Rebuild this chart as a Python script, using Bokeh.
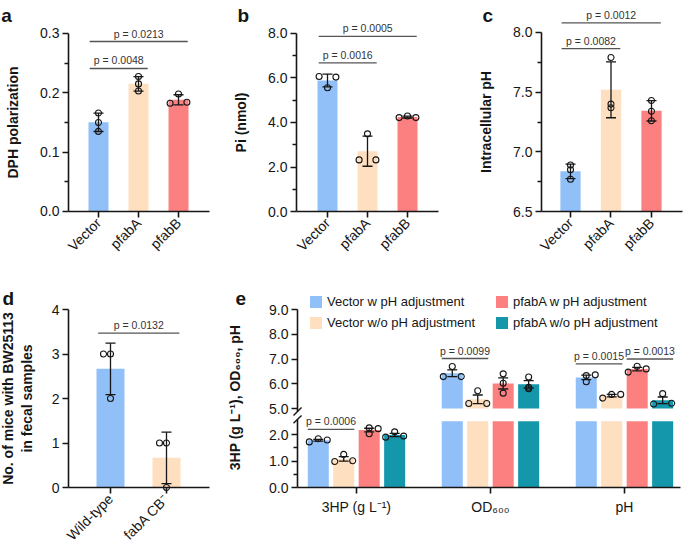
import numpy as np
from math import pi
from bokeh.plotting import figure
from bokeh.layouts import row, column
from bokeh.models import (ColumnDataSource, FixedTicker, PrintfTickFormatter, Whisker,
                          TeeHead, Label, Legend, LegendItem, Range1d, LinearAxis)
from bokeh.embed import file_html
from bokeh.resources import INLINE

FONT = "Liberation Sans"
COLORS = ["#91C0F8", "#FEDFC0", "#FC8080", "#1496AB"]
INK = "#161616"

# ---------------- data ----------------
abc_categories = ["Vector", "pfabA", "pfabB"]
a_points = [[0.166, 0.150, 0.135], [0.2275, 0.215, 0.203], [0.198, 0.1825, 0.184]]
b_points = [[6.07, 6.04, 5.56], [3.49, 2.32, 2.32], [4.22, 4.29, 4.22]]
c_points = [[6.89, 6.85, 6.77], [7.79, 7.40, 7.37], [7.43, 7.34, 7.26]]
a_pvalues = [(0, 1, "p = 0.0048"), (0, 2, "p = 0.0213")]
b_pvalues = [(0, 1, "p = 0.0016"), (0, 2, "p = 0.0005")]
c_pvalues = [(0, 1, "p = 0.0082"), (0, 2, "p = 0.0012")]

d_categories = ["Wild-type", "fabA CB\u207b"]
d_points = [[3, 3, 2], [1, 1, 0]]
d_pvalues = [(0, 1, "p = 0.0132")]

e_groups = ["3HP (g L\u207b\u00b9)", "OD\u2086\u2080\u2080", "pH"]
e_series = ["Vector w pH adjustment", "Vector w/o pH adjustment",
            "pfabA w pH adjustment", "pfabA w/o pH adjustment"]
e_vector_w = [[1.72, 1.84, 1.79], [6.70, 6.29, 6.29], [6.33, 6.08, 6.36]]
e_vector_wo = [[0.98, 1.25, 1.01], [5.72, 5.20, 5.20], [5.42, 5.57, 5.57]]
e_pfabA_w = [[2.25, 2.22, 2.03], [6.40, 6.02, 5.62], [6.47, 6.71, 6.60]]
e_pfabA_wo = [[1.90, 2.10, 1.94], [6.27, 5.86, 5.80], [5.60, 5.18, 5.21]]
e_pvalues = [(0, 0, 1, "p = 0.0006"), (1, 0, 1, "p = 0.0099"),
             (2, 0, 1, "p = 0.0015"), (2, 2, 3, "p = 0.0013")]
E_LOWER_MAX = 2.5
E_UPPER_MIN = 5.0

# ---------------- presentation (positions / styles) ----------------
a_jitter = [[0, 0, 0], [0, 0, 0], [0, -1, 1]]
b_jitter = [[-1, 1, 0], [0, -1, 1], [-1, 0, 1]]
c_jitter = [[0, 0, 0], [0, 0, 0], [0, 0, 0]]
d_jitter = [[-1, 0, 0], [-1, 0, 0]]
e_jitter = [
    [[-1, 0, 1], [0, -1, 1], [0, 0, 1]],
    [[-1, 0, 1], [0, -1, 1], [-1, 0, 1]],
    [[0, 1, 0], [0, 0, 0], [-1, 0, 1]],
    [[-1, 0, 1], [0, 0, 0], [0, -1, 1]],
]
a_bracket_y = [0.241, 0.2865]
b_bracket_y = [6.68, 7.87]
c_bracket_y = [7.864, 8.08]
d_bracket_y = [3.47]
e_bracket_y = [2.19, 7.02, 6.80, 7.00]
E_OFFSETS = [-0.285, -0.095, 0.095, 0.285]
E_BAR_W = 0.157
PFONT = "10.5px"


def new_fig(width, height, x_range, y_range):
    p = figure(width=width, height=height, x_range=Range1d(*x_range),
               y_range=Range1d(*y_range), output_backend="svg", toolbar_location=None,
               min_border_left=0, min_border_right=0, min_border_top=0,
               min_border_bottom=0)
    p.outline_line_color = None
    p.grid.visible = False
    p.background_fill_color = "white"
    p.border_fill_color = "white"
    return p


def style_axis(ax):
    ax.axis_line_width = 1.6
    ax.axis_line_color = INK
    ax.major_tick_line_width = 1.6
    ax.major_tick_line_color = INK
    ax.minor_tick_line_width = 1.3
    ax.minor_tick_line_color = INK
    ax.major_tick_in = 0
    ax.major_tick_out = 6
    ax.minor_tick_in = 0
    ax.minor_tick_out = 4
    ax.major_label_text_font = FONT
    ax.major_label_text_font_size = "14px"
    ax.major_label_text_color = INK
    ax.major_label_standoff = 3
    ax.axis_label_text_font = FONT
    ax.axis_label_text_font_style = "bold"
    ax.axis_label_text_font_size = "14px"
    ax.axis_label_text_color = INK


def add_bracket(p, x0, x1, y, text, yr="default"):
    p.segment(x0=[x0], y0=[y], x1=[x1], y1=[y], line_color="#555555", line_width=1.3,
              y_range_name=yr)
    p.add_layout(Label(x=(x0 + x1) / 2, y=y, y_offset=2, text=text, text_align="center",
                       text_baseline="bottom", text_font=FONT, text_font_size=PFONT,
                       text_color="#333333", y_range_name=yr))


def add_whisker(p, xs, lo, hi, yr="default"):
    src = ColumnDataSource(dict(x=xs, lower=lo, upper=hi))
    p.add_layout(Whisker(source=src, base="x", lower="lower", upper="upper",
                         dimension="height", line_color=INK, line_width=1.3, level="overlay",
                         y_range_name=yr,
                         upper_head=TeeHead(size=10, line_color=INK, line_width=1.3),
                         lower_head=TeeHead(size=10, line_color=INK, line_width=1.3)))


def add_letter(p, text, x, y):
    p.add_layout(Label(x=x, y=y, text=text, text_font=FONT, text_font_style="bold",
                       text_font_size="19px", text_color=INK,
                       text_baseline="alphabetic", text_align="left"))


def bar_panel(points, jitter, cats, width, height, x_range, y_range, axis_x,
              x_end, y_bounds, ticks, minor, fmt, ylabel, standoff, pvalues, bracket_y,
              jit_unit, letter, letter_xy):
    p = new_fig(width, height, x_range, y_range)
    xs = list(range(len(cats)))
    means = [float(np.mean(v)) for v in points]
    sds = [float(np.std(v, ddof=1)) for v in points]
    src = ColumnDataSource(dict(x=xs, top=means, color=COLORS[:len(cats)]))
    p.vbar(x="x", top="top", bottom=y_bounds[0], width=0.5, fill_color="color",
           line_color=None, source=src)
    add_whisker(p, xs, [m - s for m, s in zip(means, sds)], [m + s for m, s in zip(means, sds)])
    px, py = [], []
    for i, (vals, jit) in enumerate(zip(points, jitter)):
        for v, j in zip(vals, jit):
            px.append(xs[i] + j * jit_unit)
            py.append(v)
    p.scatter(px, py, marker="circle", size=6, fill_color=None, line_color=INK, line_width=1.1)
    for (i, j, t), y in zip(pvalues, bracket_y):
        add_bracket(p, xs[i] - 0.22, xs[j] + 0.23, y, t)
    yax = p.yaxis[0]
    yax.fixed_location = axis_x
    yax.ticker = FixedTicker(ticks=ticks, minor_ticks=minor)
    yax.formatter = PrintfTickFormatter(format=fmt)
    yax.bounds = y_bounds
    yax.axis_label = ylabel
    yax.axis_label_standoff = standoff
    xax = p.xaxis[0]
    xax.fixed_location = y_bounds[0]
    xax.bounds = (axis_x, x_end)
    xax.ticker = FixedTicker(ticks=xs, minor_ticks=[])
    xax.major_label_overrides = {x: c for x, c in zip(xs, cats)}
    xax.major_label_orientation = pi / 4
    style_axis(yax)
    style_axis(xax)
    add_letter(p, letter, *letter_xy)
    return p


TOP_H, BOT_H = 280, 269
pa = bar_panel(a_points, a_jitter, abc_categories, 228, TOP_H,
               (-2.45, 3.25), (-0.1163, 0.3556), -0.75, 2.775, (0, 0.3),
               [0, 0.1, 0.2, 0.3], [0.05, 0.15, 0.25], "%.1f", "DPH polarization", 16,
               a_pvalues, a_bracket_y, 0.21, "a", (-2.43, 0.3303))
pb = bar_panel(b_points, b_jitter, abc_categories, 228, TOP_H,
               (-2.475, 3.225), (-3.101, 9.483), -0.775, 2.775, (0, 8),
               [0, 2, 4, 6, 8], [1, 3, 5, 7], "%.1f", "Pi (nmol)", 16,
               b_pvalues, b_bracket_y, 0.21, "b", (-2.25, 8.809))
pc = bar_panel(c_points, c_jitter, abc_categories, 228, TOP_H,
               (-2.815, 2.815), (5.922, 8.268), -0.716, 2.765, (6.5, 8.0),
               [6.5, 7.0, 7.5, 8.0], [6.75, 7.25, 7.75], "%.1f", "Intracellular pH", 16,
               c_pvalues, c_bracket_y, 0.21, "c", (-2.173, 8.1425))
pd_ = bar_panel(d_points, d_jitter, d_categories, 228, BOT_H,
                (-1.964, 2.107), (-1.393, 4.652), -0.75, 1.768, (0, 4),
                [0, 1, 2, 3, 4], [], "%d", "No. of mice with BW25113\nin fecal samples", 14,
                d_pvalues, d_bracket_y, 0.125, "d", (-1.93, 4.247))

# ---------------- panel e (broken y axis in one frame) ----------------
e_all = [e_vector_w, e_vector_wo, e_pfabA_w, e_pfabA_wo]
E_AXIS_X = -0.44
pe = new_fig(456, BOT_H, (-0.955, 2.448), (10.172 - BOT_H / 24.75, 10.172))
pe.extra_y_ranges = {"lower": Range1d(-62 / 26.5, 207 / 26.5)}
up_axis = pe.yaxis[0]
lo_axis = LinearAxis(y_range_name="lower")
pe.add_layout(lo_axis, "left")

up_renderers = []
for k, series in enumerate(e_all):
    xs = [g + E_OFFSETS[k] for g in range(len(e_groups))]
    means = [float(np.mean(v)) for v in series]
    sems = [float(np.std(v, ddof=1) / np.sqrt(len(v))) for v in series]
    lo_src = ColumnDataSource(dict(x=xs, top=[min(m, E_LOWER_MAX) for m in means]))
    pe.vbar(x="x", top="top", bottom=0, width=E_BAR_W, fill_color=COLORS[k],
            line_color=None, source=lo_src, y_range_name="lower")
    up_sel = [m > E_UPPER_MIN for m in means]
    up_src = ColumnDataSource(dict(x=[x for x, s in zip(xs, up_sel) if s],
                                   top=[m for m, s in zip(means, up_sel) if s]))
    r = pe.vbar(x="x", top="top", bottom=E_UPPER_MIN, width=E_BAR_W,
                fill_color=COLORS[k], line_color=None, source=up_src)
    up_renderers.append(r)
    for yr, sel in (("lower", [m < E_LOWER_MAX for m in means]), ("default", up_sel)):
        wx = [x for x, s in zip(xs, sel) if s]
        if wx:
            add_whisker(pe, wx, [m - e for m, e, s in zip(means, sems, sel) if s],
                        [m + e for m, e, s in zip(means, sems, sel) if s], yr)
    for yr, cond in (("lower", lambda v: v < E_LOWER_MAX), ("default", lambda v: v > E_UPPER_MIN)):
        px, py = [], []
        for g, (vals, jit) in enumerate(zip(series, e_jitter[k])):
            for v, j in zip(vals, jit):
                if cond(v):
                    px.append(xs[g] + j * 0.067)
                    py.append(v)
        pe.scatter(px, py, marker="circle", size=6, fill_color=None,
                   line_color=INK, line_width=1.1, y_range_name=yr)

for (g, i, j, t), y in zip(e_pvalues, e_bracket_y):
    yr = "lower" if y < E_LOWER_MAX + 0.5 else "default"
    add_bracket(pe, g + E_OFFSETS[i] - E_BAR_W / 2, g + E_OFFSETS[j] + E_BAR_W / 2, y, t, yr)

up_axis.fixed_location = E_AXIS_X
up_axis.ticker = FixedTicker(ticks=[5, 6, 7, 8, 9], minor_ticks=[])
up_axis.formatter = PrintfTickFormatter(format="%.1f")
up_axis.bounds = (4.88, 9.0)
lo_axis.fixed_location = E_AXIS_X
lo_axis.ticker = FixedTicker(ticks=[0, 1, 2], minor_ticks=[0.5, 1.5])
lo_axis.formatter = PrintfTickFormatter(format="%.1f")
lo_axis.bounds = (0, 2.56)
ex = pe.xaxis[0]
ex.y_range_name = "lower"
ex.fixed_location = 0
ex.bounds = (E_AXIS_X, 2.418)
ex.ticker = FixedTicker(ticks=list(range(len(e_groups))), minor_ticks=[])
ex.major_label_overrides = {i: g for i, g in enumerate(e_groups)}
for ax in (up_axis, lo_axis, ex):
    style_axis(ax)
ex.major_label_standoff = 5

# axis break marks
pe.segment(x0=[E_AXIS_X - 0.03], y0=[4.72], x1=[E_AXIS_X + 0.03], y1=[5.04],
           line_color=INK, line_width=1.4)
pe.segment(x0=[E_AXIS_X - 0.03], y0=[2.42], x1=[E_AXIS_X + 0.03], y1=[2.72],
           line_color=INK, line_width=1.4, y_range_name="lower")

leg_kw = dict(border_line_color=None, background_fill_alpha=0, padding=0, margin=0,
              spacing=6, glyph_width=15, glyph_height=15, label_standoff=4,
              label_text_font=FONT, label_text_font_size="13px", label_height=15,
              label_text_color=INK)
pe.add_layout(Legend(items=[LegendItem(label=e_series[0], renderers=[up_renderers[0]]),
                            LegendItem(label=e_series[1], renderers=[up_renderers[1]])],
                     location=(80, 219), **leg_kw))
pe.add_layout(Legend(items=[LegendItem(label=e_series[2], renderers=[up_renderers[2]]),
                            LegendItem(label=e_series[3], renderers=[up_renderers[3]])],
                     location=(266, 219), **leg_kw))

pe.add_layout(Label(x=-0.91, y=5.444, text="3HP (g L\u207b\u00b9), OD\u2086\u2080\u2080, pH",
                    angle=pi / 2, text_align="center", text_baseline="middle",
                    text_font=FONT, text_font_style="bold", text_font_size="14px",
                    text_color=INK))
add_letter(pe, "e", -0.903, 9.444)

layout = column(row(pa, pb, pc), row(pd_, pe))
open("out.html", "w").write(file_html(layout, INLINE))
